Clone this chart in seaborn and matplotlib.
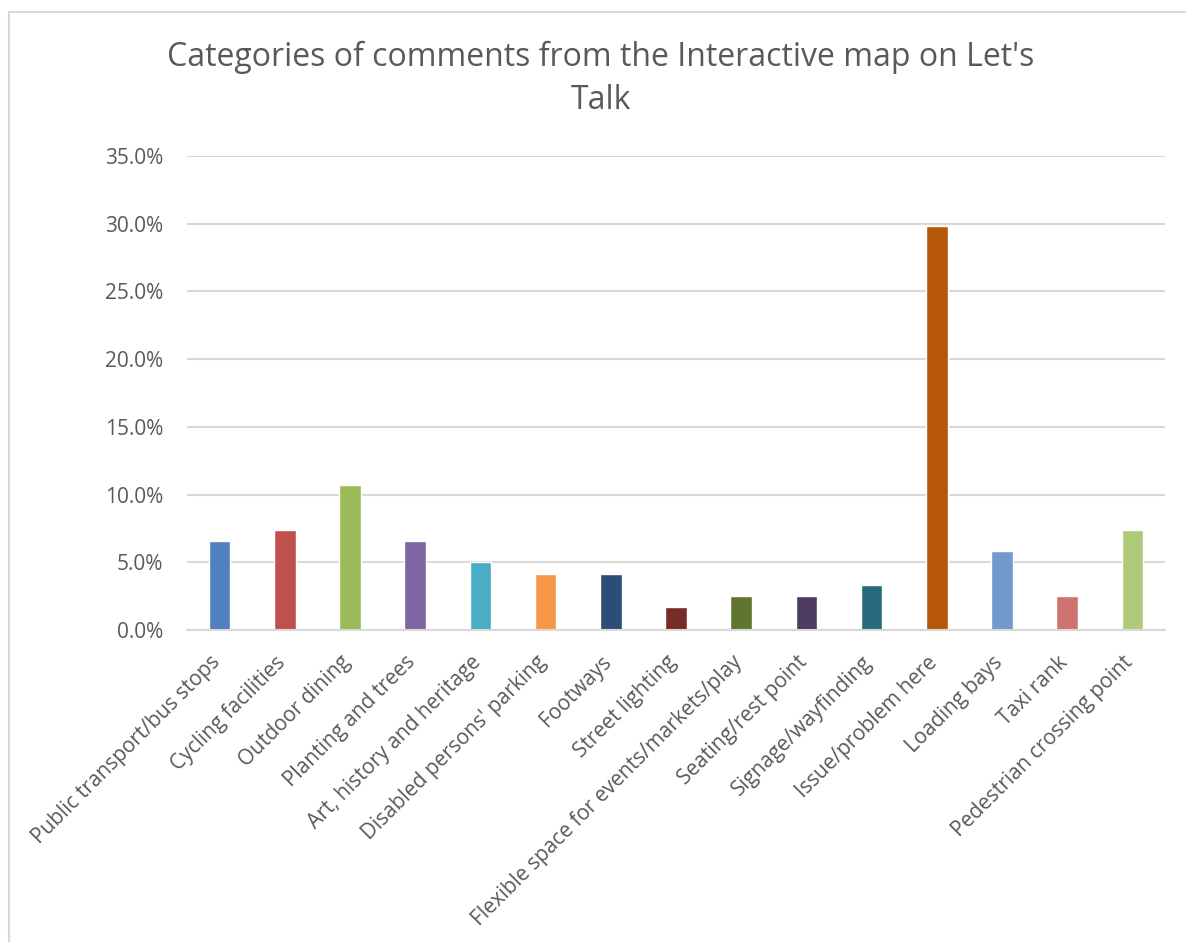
import matplotlib
matplotlib.use("Agg")
import matplotlib.pyplot as plt
import matplotlib.patches as mpatches
from matplotlib.ticker import PercentFormatter
from matplotlib.transforms import ScaledTranslation
import seaborn as sns
import pandas as pd

# Comment categories and their share of all map comments
categories = [
    "Public transport/bus stops",
    "Cycling facilities",
    "Outdoor dining",
    "Planting and trees",
    "Art, history and heritage",
    "Disabled persons' parking",
    "Footways",
    "Street lighting",
    "Flexible space for events/markets/play",
    "Seating/rest point",
    "Signage/wayfinding",
    "Issue/problem here",
    "Loading bays",
    "Taxi rank",
    "Pedestrian crossing point",
]
shares = [0.066, 0.074, 0.107, 0.066, 0.050, 0.041, 0.041, 0.017,
          0.025, 0.025, 0.033, 0.298, 0.058, 0.025, 0.074]

bar_colors = [
    "#4F81BD", "#C0504D", "#9BBB59", "#8064A2", "#4BACC6", "#F79646",
    "#2C4D75", "#772C2A", "#5F7530", "#4D3B62", "#276A7C", "#B65708",
    "#729ACA", "#CD7371", "#AFC97A",
]
title = "Categories of comments from the Interactive map on Let's\nTalk"

text_color = "#595959"
grid_color = "#D9D9D9"

sns.set_theme(style="white")
plt.rcParams["font.family"] = ["Open Sans", "DejaVu Sans"]

df = pd.DataFrame({"category": categories, "share": shares})

fig = plt.figure(figsize=(11.86, 9.42), dpi=100)
fig.patch.set_facecolor("white")

# chart-area frame (top and left edges visible)
frame = mpatches.Rectangle((9 / 1186, -0.05), 1.2, 1 - 12 / 942 + 0.05,
                           transform=fig.transFigure, fill=False,
                           edgecolor=grid_color, linewidth=1.5)
fig.patches.append(frame)

ax = fig.add_axes([187 / 1186, 1 - 630 / 942, (1165 - 187) / 1186, (630 - 156) / 942])

sns.barplot(data=df, x="category", y="share", hue="category",
            palette=bar_colors, legend=False, width=0.33, ax=ax,
            saturation=1)

ax.set_ylim(0, 0.35)
ax.set_yticks([i * 0.05 for i in range(8)])
ax.yaxis.set_major_formatter(PercentFormatter(1.0, decimals=1))
ax.set_xlim(-0.5, len(categories) - 0.5)
ax.set_xlabel("")
ax.set_ylabel("")

ax.grid(axis="y", color=grid_color, linewidth=1.5)
ax.set_axisbelow(True)
for side in ["top", "right", "left"]:
    ax.spines[side].set_visible(False)
ax.spines["bottom"].set_color(grid_color)
ax.spines["bottom"].set_linewidth(1.5)

ax.tick_params(axis="both", length=0, colors=text_color, labelsize=15)
ax.tick_params(axis="y", pad=17)
ax.tick_params(axis="x", pad=10)

# slanted category labels, nudged down-left so their ends sit under the bars
shift = ScaledTranslation(-0.10, -0.08, fig.dpi_scale_trans)
for lbl in ax.get_xticklabels():
    lbl.set_rotation(45)
    lbl.set_ha("right")
    lbl.set_rotation_mode("anchor")
    lbl.set_transform(lbl.get_transform() + shift)

fig.text(601 / 1186, 1 - 79 / 942, title, ha="center", va="center",
         fontsize=23, color=text_color, linespacing=1.42)

fig.savefig("out.png", dpi=100, facecolor="white")
